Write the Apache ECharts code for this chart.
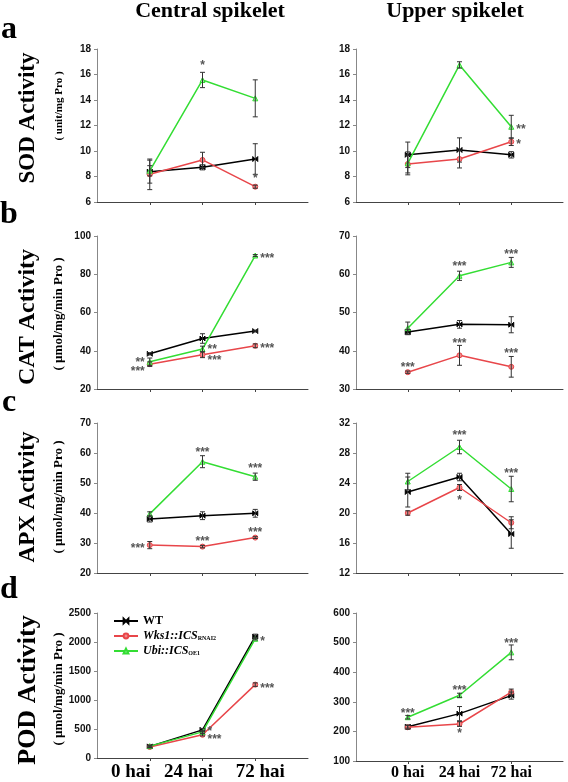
<!DOCTYPE html>
<html><head><meta charset="utf-8">
<script src="https://cdn.jsdelivr.net/npm/echarts@6/dist/echarts.min.js"></script>
<style>html,body{margin:0;padding:0;background:#fff}#c{width:568px;height:782px}</style>
</head><body><div id="c"></div>
<script>
// ---------- labels ----------
const timeLabels = ['0 hai', '24 hai', '72 hai'];
const seriesNames = ['WT', 'Wks1::ICS RNAi2', 'Ubi::ICS OE1'];
const colTitles = ['Central spikelet', 'Upper spikelet'];
const panelLetters = ['a', 'b', 'c', 'd'];
const rowTitles = ['SOD Activity', 'CAT Activity', 'APX Activity', 'POD Activity'];
const rowUnits = ['( unit/mg Pro )', '( µmol/mg/min Pro )', '( µmol/mg/min Pro )', '( µmol/mg/min Pro )'];

// ---------- a: SOD ----------
const sodCentralTicks = [6, 8, 10, 12, 14, 16, 18];
const sodCentralWT = [8.38, 8.72, 9.37];
const sodCentralWTErr = [0.9, 0.2, 1.2];
const sodCentralRNAi = [8.17, 9.3, 7.2];
const sodCentralRNAiErr = [1.2, 0.6, 0.12];
const sodCentralOE = [8.45, 15.57, 14.13];
const sodCentralOEErr = [0.4, 0.6, 1.45];
const sodCentralStars = [[1, 16.95, '*', 'C'], [2, 8.1, '*', 'C']];

const sodUpperTicks = [6, 8, 10, 12, 14, 16, 18];
const sodUpperWT = [9.7, 10.08, 9.7];
const sodUpperWTErr = [1.0, 0.95, 0.25];
const sodUpperRNAi = [8.98, 9.37, 10.73];
const sodUpperRNAiErr = [0.7, 0.7, 0.3];
const sodUpperOE = [9.03, 16.75, 11.9];
const sodUpperOEErr = [0.9, 0.25, 0.9];
const sodUpperStars = [[2, 11.9, '**', 'R'], [2, 10.75, '*', 'R']];

// ---------- b: CAT ----------
const catCentralTicks = [20, 40, 60, 80, 100];
const catCentralWT = [38.4, 46.4, 50.3];
const catCentralWTErr = [0.6, 2.5, 0.5];
const catCentralRNAi = [33.0, 37.9, 42.6];
const catCentralRNAiErr = [1.2, 1.5, 1.0];
const catCentralOE = [34.2, 40.9, 89.8];
const catCentralOEErr = [2.0, 1.5, 0.5];
const catCentralStars = [[0, 35.2, '**', 'L'], [0, 30.6, '***', 'L'], [1, 41.9, '**', 'R'], [1, 36.6, '***', 'R'], [2, 89.8, '***', 'R'], [2, 42.4, '***', 'R']];

const catUpperTicks = [30, 40, 50, 60, 70];
const catUpperWT = [44.9, 46.9, 46.8];
const catUpperWTErr = [0.7, 1.0, 2.1];
const catUpperRNAi = [34.4, 38.8, 35.8];
const catUpperRNAiErr = [0.3, 2.6, 2.7];
const catUpperOE = [45.9, 59.6, 63.1];
const catUpperOEErr = [1.6, 1.2, 1.3];
const catUpperStars = [[0, 36.3, '***', 'C'], [1, 62.7, '***', 'C'], [2, 66.0, '***', 'C'], [1, 42.7, '***', 'C'], [2, 40.0, '***', 'C']];

// ---------- c: APX ----------
const apxCentralTicks = [20, 30, 40, 50, 60, 70];
const apxCentralWT = [38.0, 39.1, 39.9];
const apxCentralWTErr = [1.0, 1.3, 1.3];
const apxCentralRNAi = [29.3, 28.8, 31.8];
const apxCentralRNAiErr = [1.2, 0.4, 0.3];
const apxCentralOE = [39.7, 57.1, 52.1];
const apxCentralOEErr = [0.7, 2.0, 1.2];
const apxCentralStars = [[1, 61.0, '***', 'C'], [2, 55.7, '***', 'C'], [1, 31.6, '***', 'C'], [2, 34.4, '***', 'C'], [0, 29.2, '***', 'L']];

const apxUpperTicks = [12, 16, 20, 24, 28, 32];
const apxUpperWT = [22.8, 24.8, 17.2];
const apxUpperWTErr = [2.0, 0.5, 1.9];
const apxUpperRNAi = [20.0, 23.4, 18.7];
const apxUpperRNAiErr = [0.3, 0.4, 0.8];
const apxUpperOE = [24.2, 28.8, 23.2];
const apxUpperOEErr = [1.1, 0.9, 1.7];
const apxUpperStars = [[1, 30.7, '***', 'C'], [2, 25.7, '***', 'C'], [1, 22.0, '*', 'C']];

// ---------- d: POD ----------
const podCentralTicks = [0, 500, 1000, 1500, 2000, 2500];
const podCentralWT = [200, 485, 2095];
const podCentralWTErr = [20, 25, 40];
const podCentralRNAi = [190, 400, 1265];
const podCentralRNAiErr = [15, 20, 30];
const podCentralOE = [205, 450, 2055];
const podCentralOEErr = [15, 20, 20];
const podCentralStars = [[2, 2050, '*', 'R'], [2, 1250, '***', 'R'], [1, 500, '*', 'R'], [1, 360, '***', 'R']];

const podUpperTicks = [100, 200, 300, 400, 500, 600];
const podUpperWT = [216, 260, 321];
const podUpperWTErr = [5, 24, 12];
const podUpperRNAi = [214, 225, 333];
const podUpperRNAiErr = [7, 8, 10];
const podUpperOE = [248, 322, 467];
const podUpperOEErr = [6, 7, 25];
const podUpperStars = [[0, 271, '***', 'C'], [1, 347, '***', 'C'], [2, 507, '***', 'C'], [1, 204, '*', 'C']];

// ---------- build ----------
const panels = [
  [sodCentralTicks, [sodCentralWT, sodCentralRNAi, sodCentralOE], [sodCentralWTErr, sodCentralRNAiErr, sodCentralOEErr], sodCentralStars],
  [sodUpperTicks, [sodUpperWT, sodUpperRNAi, sodUpperOE], [sodUpperWTErr, sodUpperRNAiErr, sodUpperOEErr], sodUpperStars],
  [catCentralTicks, [catCentralWT, catCentralRNAi, catCentralOE], [catCentralWTErr, catCentralRNAiErr, catCentralOEErr], catCentralStars],
  [catUpperTicks, [catUpperWT, catUpperRNAi, catUpperOE], [catUpperWTErr, catUpperRNAiErr, catUpperOEErr], catUpperStars],
  [apxCentralTicks, [apxCentralWT, apxCentralRNAi, apxCentralOE], [apxCentralWTErr, apxCentralRNAiErr, apxCentralOEErr], apxCentralStars],
  [apxUpperTicks, [apxUpperWT, apxUpperRNAi, apxUpperOE], [apxUpperWTErr, apxUpperRNAiErr, apxUpperOEErr], apxUpperStars],
  [podCentralTicks, [podCentralWT, podCentralRNAi, podCentralOE], [podCentralWTErr, podCentralRNAiErr, podCentralOEErr], podCentralStars],
  [podUpperTicks, [podUpperWT, podUpperRNAi, podUpperOE], [podUpperWTErr, podUpperRNAiErr, podUpperOEErr], podUpperStars]
];

const colLeft = [97, 356], colWidth = [211, 207];
const rowTop = [49, 236, 423, 613], rowHeight = [153, 153, 150, 148];
const colors = ['#000000', '#e8464a', '#33dd33'];
const symbols = ['path://M0,0L0,10L10,0L10,10Z', 'circle', 'triangle'];
const symbolFill = ['#000000', '#f08a8a', '#9be89b'];
const serif = '"Liberation Serif","Times New Roman",serif';
const sans = '"Liberation Sans",Arial,sans-serif';

// label styles for bottom rows (left column labels are larger and spread wider)
const xLabelFont = (size) => ({fontFamily: serif, fontWeight: 'bold', fontSize: size, color: '#000'});
const leftLabelRich = {
  s0: Object.assign(xLabelFont(19), {padding: [0, 38, 0, 0]}),
  s1: Object.assign(xLabelFont(19), {padding: [0, 28, 0, 0]}),
  s2: Object.assign(xLabelFont(19), {padding: [0, 0, 0, 10]})
};

const grid = [], xAxis = [], yAxis = [], series = [];
panels.forEach((p, i) => {
  const r = Math.floor(i / 2), c = i % 2;
  const [ticks, vals, errs, stars] = p;
  grid.push({left: colLeft[c], top: rowTop[r], width: colWidth[c], height: rowHeight[r]});
  const bottom = r === 3;
  const label = {show: bottom, customValues: [0, 1, 2], margin: 4,
    formatter: v => timeLabels[v] || '', ...xLabelFont(16)};
  if (bottom && c === 0) {
    label.formatter = v => '{s' + v + '|' + (timeLabels[v] || '') + '}';
    label.rich = leftLabelRich;
    label.margin = 5;
  }
  xAxis.push({
    gridIndex: i, type: 'value', min: -1, max: 3, interval: 1,
    splitLine: {show: false},
    axisLine: {onZero: false, lineStyle: {color: '#444', width: 1}},
    axisTick: {show: true, length: 3, customValues: [0, 1, 2], lineStyle: {color: '#444'}},
    axisLabel: label
  });
  yAxis.push({
    gridIndex: i, type: 'value', min: ticks[0], max: ticks[ticks.length - 1],
    interval: ticks[1] - ticks[0],
    splitLine: {show: false},
    axisLine: {show: true, onZero: false, lineStyle: {color: '#888', width: 1}},
    axisTick: {show: true, length: 3, lineStyle: {color: '#888'}},
    axisLabel: {fontFamily: sans, fontWeight: 'bold', fontSize: 10, color: '#111', margin: 6,
      formatter: v => String(v)}
  });
  vals.forEach((v, s) => {
    series.push({
      type: 'line', name: seriesNames[s], xAxisIndex: i, yAxisIndex: i,
      data: v.map((y, k) => [k, y]),
      lineStyle: {color: colors[s], width: 1.5},
      itemStyle: {color: symbolFill[s], borderColor: colors[s], borderWidth: 1},
      symbol: symbols[s], symbolSize: 5, showSymbol: true,
      animation: false, z: 2 + s
    });
  });
  const errData = [];
  vals.forEach((v, s) => v.forEach((y, k) => errData.push([k, y, errs[s][k]])));
  series.push({
    type: 'custom', xAxisIndex: i, yAxisIndex: i, data: errData, animation: false, z: 6,
    encode: {x: 0, y: 1},
    renderItem: (params, api) => {
      const x = api.value(0), m = api.value(1), e = api.value(2);
      const t = api.coord([x, m + e]), b = api.coord([x, m - e]);
      const w = 2.5, st = {stroke: '#333', lineWidth: 1};
      return {type: 'group', children: [
        {type: 'line', shape: {x1: t[0], y1: t[1], x2: b[0], y2: b[1]}, style: st},
        {type: 'line', shape: {x1: t[0] - w, y1: t[1], x2: t[0] + w, y2: t[1]}, style: st},
        {type: 'line', shape: {x1: b[0] - w, y1: b[1], x2: b[0] + w, y2: b[1]}, style: st}
      ]};
    }
  });
  series.push({
    type: 'custom', xAxisIndex: i, yAxisIndex: i, animation: false, z: 7,
    data: stars.map(s => [s[0], s[1]]), encode: {x: 0, y: 1},
    renderItem: (params, api) => {
      const st = stars[params.dataIndex];
      const pt = api.coord([api.value(0), api.value(1)]);
      let x = pt[0], align = 'center';
      if (st[3] === 'R') { x += 5; align = 'left'; }
      if (st[3] === 'L') { x -= 5; align = 'right'; }
      return {type: 'text', x: x, y: pt[1] + 3, style: {
        text: st[2], fill: '#555', font: 'bold 12px ' + sans, align: align, verticalAlign: 'middle'}};
    }
  });
});

const graphic = [];
colTitles.forEach((t, c) => graphic.push({type: 'text', x: colLeft[c] + [113, 99][c], y: 11,
  style: {text: t, font: 'bold 22px ' + serif, fill: '#000', align: 'center', verticalAlign: 'middle'}}));
const letterY = [30, 215, 403, 590];
const titleY = [118, 317, 497, 690];
const unitY = [106, 314, 497, 689];
const titleSize = [23, 24, 23, 26];
const unitSize = [11, 13, 13, 13];
panelLetters.forEach((l, r) => {
  graphic.push({type: 'text', x: 9, y: letterY[r], style: {text: l, font: 'bold 32px ' + serif, fill: '#000', align: 'center', verticalAlign: 'middle'}});
  graphic.push({type: 'text', x: 28, y: titleY[r], rotation: Math.PI / 2,
    style: {text: rowTitles[r], font: 'bold ' + titleSize[r] + 'px ' + serif, fill: '#000', align: 'center', verticalAlign: 'middle'}});
  graphic.push({type: 'text', x: 59, y: unitY[r], rotation: Math.PI / 2,
    style: {text: rowUnits[r], font: 'bold ' + unitSize[r] + 'px ' + serif, fill: '#000', align: 'center', verticalAlign: 'middle'}});
});

const chart = echarts.init(document.getElementById('c'), null, {renderer: 'canvas'});
chart.setOption({
  animation: false,
  backgroundColor: '#fff',
  grid, xAxis, yAxis, series, graphic,
  legend: {
    data: seriesNames, left: 108, top: 610, orient: 'vertical',
    itemWidth: 24, itemHeight: 6, itemGap: 3, selectedMode: false,
    formatter: n => {
      if (n === 'WT') return '{n|WT}';
      const parts = n.split(' ');
      return '{i|' + parts[0] + '}{s|' + parts[1].toUpperCase() + '}';
    },
    textStyle: {
      rich: {
        n: {fontFamily: serif, fontWeight: 'bold', fontSize: 12, color: '#000'},
        i: {fontFamily: serif, fontWeight: 'bold', fontStyle: 'italic', fontSize: 12, color: '#000'},
        s: {fontFamily: serif, fontWeight: 'bold', fontSize: 6, color: '#000', padding: [5, 0, 0, 0]}
      }
    }
  }
});
</script></body></html>
